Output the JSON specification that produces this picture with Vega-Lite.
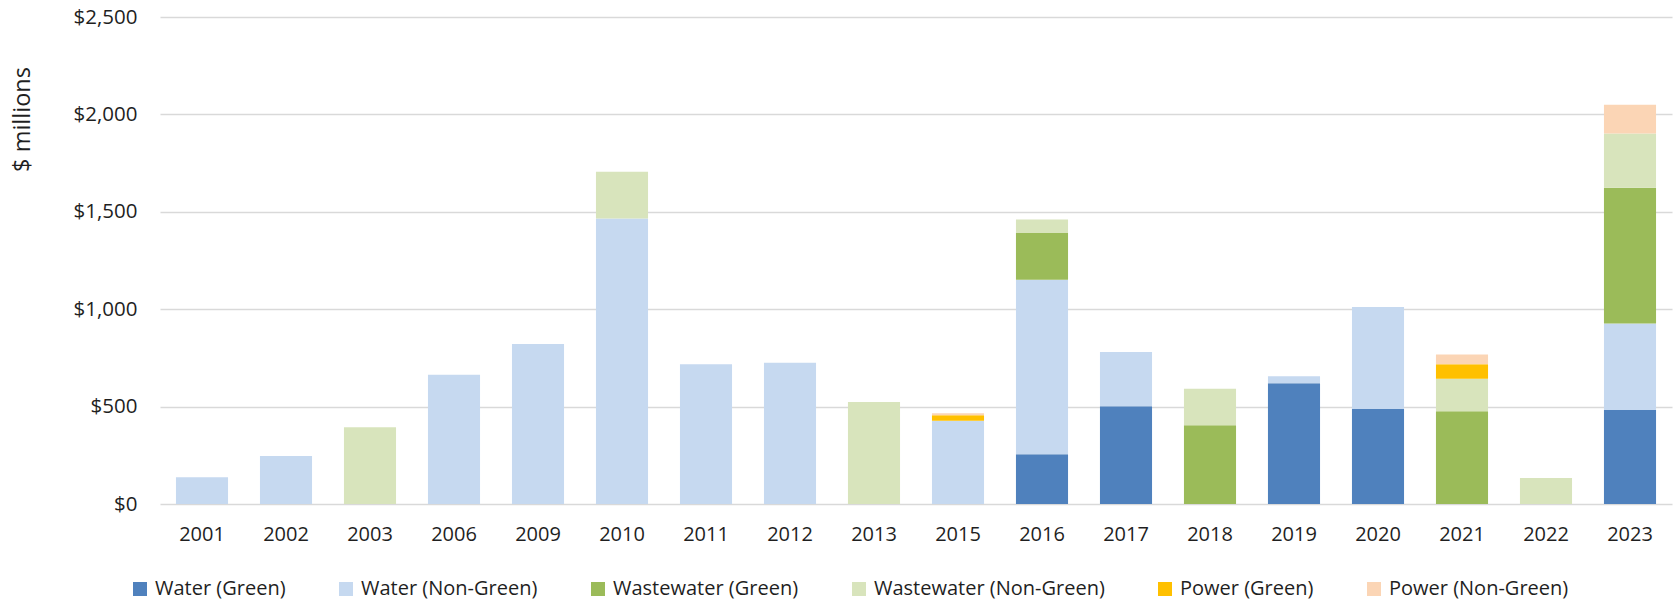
{
  "$schema": "https://vega.github.io/schema/vega-lite/v6.json",
  "autosize": {"type": "none"},
  "width": 1512,
  "height": 487,
  "padding": {"left": 160, "top": 17, "right": 2, "bottom": 99},
  "background": "white",
  "config": {
    "font": "Open Sans",
    "view": {"stroke": null},
    "axis": {"labelFont": "Open Sans", "titleFont": "Open Sans", "labelColor": "#1f1f1f", "titleColor": "#1f1f1f"}
  },
  "data": {
    "values": [
      {"year": "2001", "cat": "Water (Non-Green)", "k": 2, "value": 137},
      {"year": "2002", "cat": "Water (Non-Green)", "k": 2, "value": 247},
      {"year": "2003", "cat": "Wastewater (Non-Green)", "k": 4, "value": 394},
      {"year": "2006", "cat": "Water (Non-Green)", "k": 2, "value": 663},
      {"year": "2009", "cat": "Water (Non-Green)", "k": 2, "value": 821},
      {"year": "2010", "cat": "Water (Non-Green)", "k": 2, "value": 1465},
      {"year": "2010", "cat": "Wastewater (Non-Green)", "k": 4, "value": 241},
      {"year": "2011", "cat": "Water (Non-Green)", "k": 2, "value": 718},
      {"year": "2012", "cat": "Water (Non-Green)", "k": 2, "value": 725},
      {"year": "2013", "cat": "Wastewater (Non-Green)", "k": 4, "value": 523},
      {"year": "2015", "cat": "Water (Non-Green)", "k": 2, "value": 427},
      {"year": "2015", "cat": "Power (Green)", "k": 5, "value": 29},
      {"year": "2015", "cat": "Power (Non-Green)", "k": 6, "value": 10},
      {"year": "2016", "cat": "Water (Green)", "k": 1, "value": 255},
      {"year": "2016", "cat": "Water (Non-Green)", "k": 2, "value": 896},
      {"year": "2016", "cat": "Wastewater (Green)", "k": 3, "value": 240},
      {"year": "2016", "cat": "Wastewater (Non-Green)", "k": 4, "value": 69},
      {"year": "2017", "cat": "Water (Green)", "k": 1, "value": 502},
      {"year": "2017", "cat": "Water (Non-Green)", "k": 2, "value": 278},
      {"year": "2018", "cat": "Wastewater (Green)", "k": 3, "value": 404},
      {"year": "2018", "cat": "Wastewater (Non-Green)", "k": 4, "value": 187},
      {"year": "2019", "cat": "Water (Green)", "k": 1, "value": 620},
      {"year": "2019", "cat": "Water (Non-Green)", "k": 2, "value": 36},
      {"year": "2020", "cat": "Water (Green)", "k": 1, "value": 488},
      {"year": "2020", "cat": "Water (Non-Green)", "k": 2, "value": 523},
      {"year": "2021", "cat": "Wastewater (Green)", "k": 3, "value": 476},
      {"year": "2021", "cat": "Wastewater (Non-Green)", "k": 4, "value": 167},
      {"year": "2021", "cat": "Power (Green)", "k": 5, "value": 75},
      {"year": "2021", "cat": "Power (Non-Green)", "k": 6, "value": 50},
      {"year": "2022", "cat": "Wastewater (Non-Green)", "k": 4, "value": 134},
      {"year": "2023", "cat": "Water (Green)", "k": 1, "value": 482},
      {"year": "2023", "cat": "Water (Non-Green)", "k": 2, "value": 445},
      {"year": "2023", "cat": "Wastewater (Green)", "k": 3, "value": 697},
      {"year": "2023", "cat": "Wastewater (Non-Green)", "k": 4, "value": 278},
      {"year": "2023", "cat": "Power (Non-Green)", "k": 6, "value": 147}
    ]
  },
  "mark": {"type": "bar"},
  "encoding": {
    "x": {
      "field": "year", "type": "nominal", "sort": null,
      "scale": {"paddingInner": 0.38, "paddingOuter": 0.19},
      "axis": {"title": null, "labelAngle": 0, "labelFontSize": 20, "labelPadding": 20, "ticks": false, "domain": false, "grid": false}
    },
    "y": {
      "field": "value", "type": "quantitative", "stack": "zero",
      "scale": {"domain": [0, 2500], "nice": false},
      "axis": {
        "values": [0, 500, 1000, 1500, 2000, 2500],
        "format": "$,.0f",
        "labelFontSize": 20.5, "labelPadding": 23, "ticks": false, "domain": false,
        "gridColor": "#d9d9d9", "gridWidth": 1.5,
        "title": "$ millions", "titleFontSize": 23.5, "titleFontWeight": "normal",
        "titleAngle": -90, "titleX": -138, "titleY": 102, "titleAlign": "center", "titleBaseline": "middle"
      }
    },
    "color": {
      "field": "cat", "type": "nominal",
      "scale": {
        "domain": ["Water (Green)", "Water (Non-Green)", "Wastewater (Green)", "Wastewater (Non-Green)", "Power (Green)", "Power (Non-Green)"],
        "range": ["#4f81bd", "#c6d9f0", "#9bbb59", "#d8e4bc", "#ffc000", "#fbd5b5"]
      },
      "legend": {
        "title": null, "orient": "none", "direction": "horizontal",
        "legendX": -30, "legendY": 562, "padding": 0,
        "symbolType": "square", "symbolSize": 196, "symbolStrokeWidth": 0,
        "labelFontSize": 20, "labelLimit": 0, "labelColor": "#1f1f1f", "labelOffset": 5, "columnPadding": 50
      }
    },
    "order": {"field": "k", "type": "quantitative", "sort": "ascending"}
  }
}
